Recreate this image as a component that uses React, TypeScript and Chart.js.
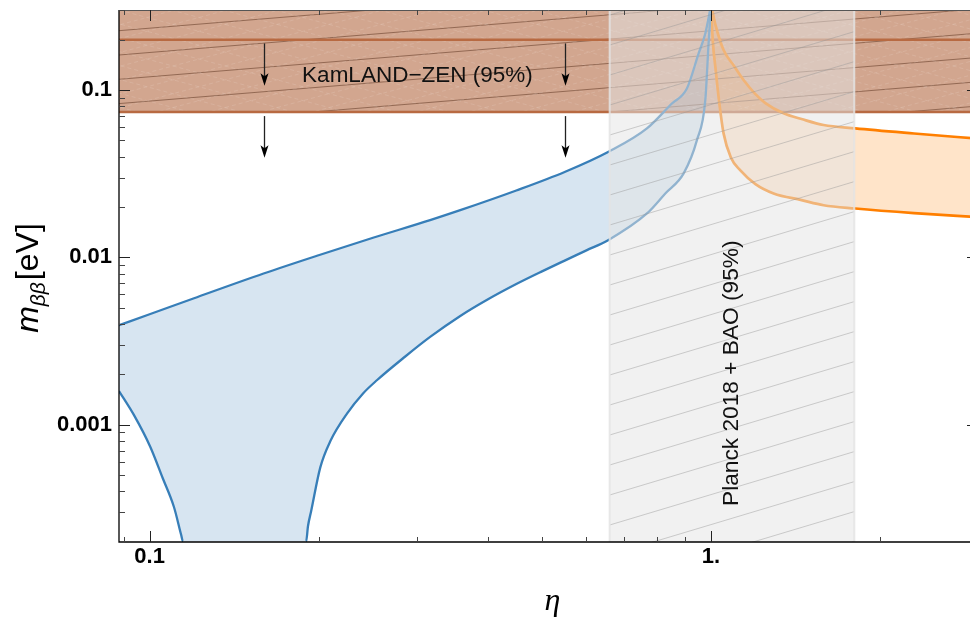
import React, { useEffect, useRef } from 'react';
import { Chart, registerables } from 'chart.js';

Chart.register(...registerables);

// ---------- axes ----------
const X_MIN = 0.0882;
const X_MAX = 2.99;
const Y_MIN = 0.000199;
const Y_MAX = 0.301;

const X_TICKS = [0.1, 1];
const X_TICK_LABELS = ['0.1', '1.'];
const Y_TICKS = [0.001, 0.01, 0.1];
const Y_TICK_LABELS = ['0.001', '0.01', '0.1'];
const X_MINOR_TICKS = [0.09, 0.2, 0.3, 0.4, 0.5, 0.6, 0.7, 0.8, 0.9, 2, 3];
const Y_MINOR_TICKS = [
  0.0002, 0.0003, 0.0004, 0.0005, 0.0006, 0.0007, 0.0008, 0.0009,
  0.002, 0.003, 0.004, 0.005, 0.006, 0.007, 0.008, 0.009,
  0.02, 0.03, 0.04, 0.05, 0.06, 0.07, 0.08, 0.09,
  0.2, 0.3,
];

// ---------- blue band (eta < 1) ----------
const BLUE_UPPER_ETA = [0.0882, 0.1, 0.12, 0.1596, 0.2, 0.25, 0.316, 0.3576, 0.45, 0.55, 0.657, 0.769, 0.85, 0.906, 0.95, 0.977, 1.0];
const BLUE_UPPER_M = [0.00393, 0.00457, 0.0057, 0.00801, 0.0103, 0.0131, 0.0167, 0.01915, 0.0251, 0.0325, 0.0428, 0.059, 0.0825, 0.1023, 0.1647, 0.218, 0.32];

const BLUE_LOWER_ETA = [0.0882, 0.0938, 0.1003, 0.1055, 0.1105, 0.1138, 0.1147, 0.19, 0.1915, 0.194, 0.2014, 0.21, 0.2247, 0.24, 0.254, 0.285, 0.316, 0.3576, 0.4, 0.45, 0.5, 0.55, 0.6, 0.657, 0.769, 0.83, 0.894, 0.944, 0.977, 0.99, 1.0];
const BLUE_LOWER_M = [0.00159, 0.00114, 0.000736, 0.00048, 0.000322, 0.00022, 0.0002, 0.0002, 0.000248, 0.000305, 0.000556, 0.000801, 0.001165, 0.001537, 0.001843, 0.002547, 0.003346, 0.004467, 0.0056, 0.00693, 0.00825, 0.0096, 0.01101, 0.01272, 0.0183, 0.0242, 0.0318, 0.0502, 0.087, 0.187, 0.32];

// ---------- orange band (eta > 1) ----------
const ORANGE_UPPER_ETA = [1.003, 1.02, 1.053, 1.1, 1.143, 1.2, 1.25, 1.347, 1.45, 1.587, 1.807, 2.3, 3.0];
const ORANGE_UPPER_M = [0.31, 0.241, 0.1735, 0.139, 0.1148, 0.0946, 0.0836, 0.0726, 0.0671, 0.0618, 0.059, 0.055, 0.0512];

const ORANGE_LOWER_ETA = [1.001, 1.008, 1.018, 1.035, 1.053, 1.085, 1.127, 1.2, 1.293, 1.45, 1.587, 1.807, 2.3, 3.0];
const ORANGE_LOWER_M = [0.3, 0.191, 0.138, 0.0829, 0.0551, 0.0395, 0.0332, 0.0274, 0.0241, 0.022, 0.0205, 0.0196, 0.0184, 0.0174];

// ---------- experimental bounds ----------
const KAMLAND_LIMITS = [0.074, 0.2]; // eV
const PLANCK_ETA = [0.66, 1.8];
const ARROW_ETA = [0.16, 0.55];
const ARROW_FROM_M = [0.19, 0.0699];
const ARROW_TO_M = [0.106, 0.0394];

const BLUE = 'rgb(55,126,184)';
const BLUE_FILL = 'rgba(55,126,184,0.2)';
const ORANGE = 'rgb(255,127,0)';
const ORANGE_FILL = 'rgba(255,127,0,0.21)';
const KAM_FILL = 'rgb(210,166,143)';
const KAM_LINE = 'rgb(184,106,66)';

const pts = (xs: number[], ys: number[]) => xs.map((x, i) => ({ x, y: ys[i] }));

const overlayPlugin = {
  id: 'overlay',
  beforeDatasetsDraw(chart: any) {
    const { ctx, chartArea: a, scales } = chart;
    const y = scales.y;
    const yLow = y.getPixelForValue(KAMLAND_LIMITS[0]);
    ctx.save();
    ctx.beginPath();
    ctx.rect(a.left, a.top, a.right - a.left, yLow - a.top);
    ctx.clip();
    ctx.strokeStyle = 'rgba(95,55,35,0.55)';
    ctx.lineWidth = 1;
    const slope = 0.082;
    const gap = 24.3;
    const w = a.right - a.left;
    for (let k = -3; k < 14; k++) {
      const y0 = a.top + 20.7 + k * gap;
      ctx.beginPath();
      ctx.moveTo(a.left, y0);
      ctx.lineTo(a.right, y0 - slope * w);
      ctx.stroke();
    }
    // faint light cross hatching
    ctx.strokeStyle = 'rgba(255,255,255,0.12)';
    ctx.setLineDash([4, 3]);
    for (let k = -40; k < 40; k++) {
      const x0 = a.left + k * 52;
      ctx.beginPath();
      ctx.moveTo(x0, a.top);
      ctx.lineTo(x0 + 420, yLow + 10);
      ctx.stroke();
      ctx.beginPath();
      ctx.moveTo(x0, yLow + 10);
      ctx.lineTo(x0 + 420, a.top);
      ctx.stroke();
    }
    ctx.setLineDash([]);
    ctx.restore();
  },
  afterDatasetsDraw(chart: any) {
    const { ctx, chartArea: a, scales } = chart;
    const x = scales.x;
    const y = scales.y;

    // Planck + BAO excluded band
    const pl = x.getPixelForValue(PLANCK_ETA[0]);
    const pr = x.getPixelForValue(PLANCK_ETA[1]);
    ctx.save();
    ctx.beginPath();
    ctx.rect(pl, a.top, pr - pl, a.bottom - a.top);
    ctx.clip();
    ctx.fillStyle = 'rgba(228,228,228,0.52)';
    ctx.fillRect(pl, a.top, pr - pl, a.bottom - a.top);
    ctx.strokeStyle = 'rgba(150,150,150,0.45)';
    ctx.lineWidth = 1;
    for (let k = -30; k < 40; k++) {
      const y0 = a.top + 95 + 30 * k;
      ctx.beginPath();
      ctx.moveTo(pl, y0);
      ctx.lineTo(pr, y0 - 0.3 * (pr - pl));
      ctx.stroke();
    }
    ctx.restore();
    ctx.save();
    ctx.strokeStyle = 'rgba(228,228,228,0.85)';
    ctx.lineWidth = 2;
    for (const px of [pl, pr]) {
      ctx.beginPath();
      ctx.moveTo(px, a.top);
      ctx.lineTo(px, a.bottom);
      ctx.stroke();
    }
    ctx.restore();

    // arrows below KamLAND limit
    ctx.save();
    for (const eta of ARROW_ETA) {
      const ax = Math.round(x.getPixelForValue(eta)) + 0.5;
      for (let i = 0; i < ARROW_FROM_M.length; i++) {
        const y0 = y.getPixelForValue(ARROW_FROM_M[i]);
        const y1 = y.getPixelForValue(ARROW_TO_M[i]);
        ctx.strokeStyle = '#222';
        ctx.lineWidth = 1.3;
        ctx.beginPath();
        ctx.moveTo(ax, y0);
        ctx.lineTo(ax, y1 - 8);
        ctx.stroke();
        ctx.fillStyle = '#000';
        ctx.beginPath();
        ctx.moveTo(ax, y1);
        ctx.lineTo(ax - 4, y1 - 12.5);
        ctx.lineTo(ax, y1 - 9.5);
        ctx.lineTo(ax + 4, y1 - 12.5);
        ctx.closePath();
        ctx.fill();
      }
    }
    ctx.restore();

    // labels inside the plot
    ctx.save();
    ctx.fillStyle = '#111';
    ctx.font = '22.5px "Liberation Sans", Arial, sans-serif';
    ctx.textAlign = 'center';
    ctx.textBaseline = 'middle';
    ctx.fillText('KamLAND\u2212ZEN (95%)', x.getPixelForValue(0.3), y.getPixelForValue(0.122));
    ctx.translate(x.getPixelForValue(1.089), y.getPixelForValue(0.00203));
    ctx.rotate(-Math.PI / 2);
    ctx.font = '22.7px "Liberation Sans", Arial, sans-serif';
    ctx.fillText('Planck 2018 + BAO (95%)', 0, 0);
    ctx.restore();

    // frame
    ctx.save();
    ctx.strokeStyle = '#555';
    ctx.lineWidth = 1;
    ctx.beginPath();
    ctx.moveTo(a.left, a.top + 0.5);
    ctx.lineTo(a.right, a.top + 0.5);
    ctx.moveTo(a.right - 0.5, a.top);
    ctx.lineTo(a.right - 0.5, a.bottom);
    ctx.stroke();
    ctx.strokeStyle = '#000';
    ctx.lineWidth = 1.3;
    ctx.beginPath();
    ctx.moveTo(a.left, a.top);
    ctx.lineTo(a.left, a.bottom);
    ctx.lineTo(a.right, a.bottom);
    ctx.stroke();

    // inward ticks
    const tickX = (v: number, len: number, col: string) => {
      const px = Math.round(x.getPixelForValue(v)) + 0.5;
      ctx.strokeStyle = col;
      ctx.beginPath();
      ctx.moveTo(px, a.bottom);
      ctx.lineTo(px, a.bottom - len);
      ctx.moveTo(px, a.top);
      ctx.lineTo(px, a.top + len);
      ctx.stroke();
    };
    const tickY = (v: number, len: number, col: string) => {
      const py = Math.round(y.getPixelForValue(v)) + 0.5;
      ctx.strokeStyle = col;
      ctx.beginPath();
      ctx.moveTo(a.left, py);
      ctx.lineTo(a.left + len, py);
      ctx.moveTo(a.right, py);
      ctx.lineTo(a.right - len, py);
      ctx.stroke();
    };
    ctx.lineWidth = 1;
    X_MINOR_TICKS.forEach((v) => tickX(v, 5, '#444'));
    X_TICKS.forEach((v) => tickX(v, 11, '#222'));
    Y_MINOR_TICKS.forEach((v) => tickY(v, 6, '#444'));
    Y_TICKS.forEach((v) => tickY(v, 11, '#222'));
    ctx.restore();

    // axis titles
    ctx.save();
    ctx.fillStyle = '#000';
    ctx.textBaseline = 'alphabetic';
    ctx.textAlign = 'center';
    ctx.font = 'italic 32px "Liberation Serif", "Times New Roman", serif';
    ctx.fillText('\u03b7', (a.left + a.right) / 2 + 4, 610);
    ctx.restore();

    ctx.save();
    ctx.fillStyle = '#000';
    ctx.textBaseline = 'alphabetic';
    ctx.textAlign = 'left';
    const fM = 'italic 32px "Liberation Sans", Arial, sans-serif';
    const fS = 'italic 21px "Liberation Sans", Arial, sans-serif';
    const fE = '32px "Liberation Sans", Arial, sans-serif';
    ctx.font = fM;
    const wM = ctx.measureText('m').width;
    ctx.font = fS;
    const wS = ctx.measureText('\u03b2\u03b2').width;
    ctx.font = fE;
    const wE = ctx.measureText('[eV]').width;
    const total = wM + wS + wE + 2;
    ctx.translate(38, (a.top + a.bottom) / 2 + 2);
    ctx.rotate(-Math.PI / 2);
    let cx = -total / 2;
    ctx.font = fM;
    ctx.fillText('m', cx, 0);
    cx += wM;
    ctx.font = fS;
    ctx.fillText('\u03b2\u03b2', cx, 7);
    cx += wS + 2;
    ctx.font = fE;
    ctx.fillText('[eV]', cx, 0);
    ctx.restore();
  },
};

export default function App() {
  const ref = useRef<HTMLCanvasElement | null>(null);

  useEffect(() => {
    const canvas = ref.current;
    if (!canvas) return;
    const hideFloor = (c: any) =>
      c.p0.parsed.y <= 0.0002 && c.p1.parsed.y <= 0.0002 ? 'rgba(0,0,0,0)' : undefined;

    const chart = new Chart(canvas, {
      type: 'line',
      data: {
        datasets: [
          {
            label: 'blue upper',
            data: pts(BLUE_UPPER_ETA, BLUE_UPPER_M),
            borderColor: BLUE,
            backgroundColor: BLUE_FILL,
            borderWidth: 2.3,
            fill: '+1',
            clip: 0,
            cubicInterpolationMode: 'monotone',
          },
          {
            label: 'blue lower',
            data: pts(BLUE_LOWER_ETA, BLUE_LOWER_M),
            borderColor: BLUE,
            borderWidth: 2.3,
            fill: false,
            clip: 0,
            cubicInterpolationMode: 'monotone',
            segment: { borderColor: hideFloor },
          },
          {
            label: 'orange upper',
            data: pts(ORANGE_UPPER_ETA, ORANGE_UPPER_M),
            borderColor: ORANGE,
            backgroundColor: ORANGE_FILL,
            borderWidth: 2.7,
            fill: '+1',
            clip: 0,
            cubicInterpolationMode: 'monotone',
          },
          {
            label: 'orange lower',
            data: pts(ORANGE_LOWER_ETA, ORANGE_LOWER_M),
            borderColor: ORANGE,
            borderWidth: 2.7,
            fill: false,
            clip: 0,
            cubicInterpolationMode: 'monotone',
          },
          {
            label: 'KamLAND upper',
            data: [
              { x: X_MIN, y: KAMLAND_LIMITS[1] },
              { x: X_MAX, y: KAMLAND_LIMITS[1] },
            ],
            borderColor: KAM_LINE,
            borderWidth: 2.6,
            fill: false,
            clip: 0,
          },
          {
            label: 'KamLAND lower',
            data: [
              { x: X_MIN, y: KAMLAND_LIMITS[0] },
              { x: X_MAX, y: KAMLAND_LIMITS[0] },
            ],
            borderColor: KAM_LINE,
            backgroundColor: KAM_FILL,
            borderWidth: 2.6,
            fill: 'end',
            clip: 0,
          },
        ],
      },
      options: {
        animation: false,
        responsive: false,
        devicePixelRatio: 1,
        layout: { padding: { top: 10, right: 12, left: 0, bottom: 0 } },
        elements: { point: { radius: 0 }, line: { tension: 0 } },
        plugins: {
          legend: { display: false },
          tooltip: { enabled: false },
          filler: { drawTime: 'beforeDatasetsDraw' },
        },
        scales: {
          x: {
            type: 'logarithmic',
            min: X_MIN,
            max: X_MAX,
            border: { display: false },
            grid: { display: false, drawTicks: false },
            afterBuildTicks: (s: any) => {
              s.ticks = X_TICKS.map((v) => ({ value: v }));
            },
            afterFit: (s: any) => {
              s.height = 75;
              s.paddingLeft = 0;
              s.paddingRight = 0;
            },
            ticks: {
              autoSkip: false,
              maxRotation: 0,
              padding: 2,
              color: '#000',
              font: { family: '"Liberation Sans", Arial, sans-serif', size: 22, weight: 'bold' },
              callback: (_v: any, i: number) => X_TICK_LABELS[i],
            },
          },
          y: {
            type: 'logarithmic',
            min: Y_MIN,
            max: Y_MAX,
            border: { display: false },
            grid: { display: false, drawTicks: false },
            afterBuildTicks: (s: any) => {
              s.ticks = Y_TICKS.map((v) => ({ value: v }));
            },
            afterFit: (s: any) => {
              s.width = 119;
              s.paddingTop = 0;
              s.paddingBottom = 0;
            },
            ticks: {
              autoSkip: false,
              padding: 7,
              color: '#000',
              font: { family: '"Liberation Sans", Arial, sans-serif', size: 22, weight: 'bold' },
              callback: (_v: any, i: number) => Y_TICK_LABELS[i],
            },
          },
        },
      },
      plugins: [overlayPlugin],
    } as any);

    return () => chart.destroy();
  }, []);

  return (
    <div style={{ position: 'absolute', left: 0, top: 0, width: 970, height: 617, overflow: 'hidden', background: '#fff' }}>
      <canvas ref={ref} width={990} height={617} style={{ display: 'block', width: 990, height: 617 }} />
    </div>
  );
}
